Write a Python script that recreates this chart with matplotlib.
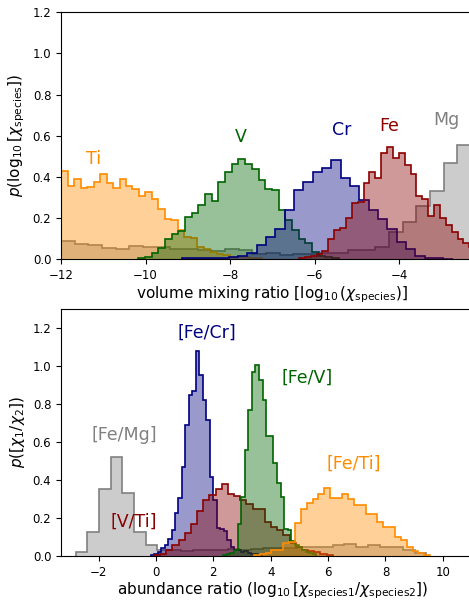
import numpy as np
import matplotlib
matplotlib.use('Agg')
import matplotlib.pyplot as plt


######################
# Retrieved posteriors: first bin edge, bin width and density per bin
# Volume mixing ratios, log10(chi)
ti_start, ti_width = -12.0, 0.1538
ti_vals = [0.43, 0.355, 0.39, 0.344, 0.35, 0.375, 0.413, 0.368, 0.344, 0.39,
           0.357, 0.342, 0.306, 0.325, 0.29, 0.243, 0.195, 0.19, 0.141, 0.105,
           0.10, 0.06, 0.05, 0.035, 0.025, 0.02, 0.012, 0.01, 0.008, 0.005,
           0.003]
v_start, v_width = -10.17, 0.158
v_vals = [0.005, 0.008, 0.028, 0.052, 0.096, 0.12, 0.138, 0.203, 0.225, 0.263,
          0.315, 0.282, 0.376, 0.425, 0.462, 0.486, 0.462, 0.438, 0.384, 0.34,
          0.335, 0.238, 0.19, 0.141, 0.097, 0.079, 0.036, 0.015, 0.008, 0.005]
cr_start, cr_width = -9.14, 0.221
cr_vals = [0.003, 0.003, 0.004, 0.004, 0.006, 0.011, 0.015, 0.03, 0.068, 0.108,
           0.146, 0.238, 0.335, 0.373, 0.425, 0.444, 0.48, 0.395, 0.355, 0.287,
           0.238, 0.195, 0.144, 0.081, 0.047, 0.015, 0.005, 0.005, 0.002]
fe_start, fe_width = -6.368, 0.139
fe_vals = [0.005, 0.01, 0.013, 0.025, 0.039, 0.096, 0.141, 0.149, 0.201, 0.274,
           0.279, 0.371, 0.421, 0.392, 0.517, 0.546, 0.49, 0.514, 0.457, 0.412,
           0.306, 0.29, 0.209, 0.263, 0.198, 0.165, 0.133, 0.097, 0.076, 0.06,
           0.045]
mg_start, mg_width = -12.0, 0.3234
mg_vals = [0.088, 0.073, 0.068, 0.052, 0.05, 0.062, 0.06, 0.06, 0.049, 0.05,
           0.045, 0.04, 0.048, 0.045, 0.025, 0.03, 0.02, 0.025, 0.022, 0.028,
           0.028, 0.044, 0.044, 0.06, 0.13, 0.181, 0.258, 0.332, 0.465, 0.554,
           0.55]

# Abundance ratios, log10(chi1/chi2)
femg_start, femg_width = -2.8, 0.4075
femg_vals = [0.023, 0.125, 0.353, 0.523, 0.33, 0.125, 0.058, 0.03, 0.03, 0.028,
             0.03, 0.032, 0.03, 0.035, 0.032, 0.038, 0.04, 0.044, 0.04, 0.045,
             0.048, 0.046, 0.058, 0.063, 0.046, 0.056, 0.05, 0.046, 0.032,
             0.014]
fecr_start, fecr_width = -0.183, 0.121
fecr_vals = [0.005, 0.01, 0.02, 0.04, 0.06, 0.088, 0.137, 0.225, 0.307, 0.47,
             0.69, 0.848, 0.871, 1.077, 0.954, 0.822, 0.717, 0.418, 0.295,
             0.146, 0.14, 0.13, 0.084, 0.05, 0.032, 0.03, 0.02, 0.025, 0.015,
             0.01, 0.01, 0.005]
vti_start, vti_width = -0.07, 0.215
vti_vals = [0.005, 0.01, 0.03, 0.058, 0.084, 0.12, 0.168, 0.238, 0.295, 0.32,
            0.352, 0.378, 0.327, 0.316, 0.295, 0.272, 0.246, 0.246, 0.181,
            0.154, 0.137, 0.11, 0.067, 0.05, 0.03, 0.025, 0.02, 0.01, 0.005]
fev_start, fev_width = 2.345, 0.125
fev_vals = [0.005, 0.01, 0.015, 0.03, 0.168, 0.31, 0.56, 0.77, 0.971, 1.007,
            0.928, 0.822, 0.629, 0.629, 0.49, 0.383, 0.313, 0.14, 0.137, 0.08,
            0.06, 0.05, 0.03, 0.02, 0.015, 0.01]
feti_start, feti_width = 3.41, 0.205
feti_vals = [0.005, 0.01, 0.015, 0.03, 0.03, 0.07, 0.075, 0.172, 0.247, 0.277,
             0.3, 0.327, 0.356, 0.304, 0.304, 0.327, 0.3, 0.269, 0.269, 0.221,
             0.221, 0.181, 0.151, 0.151, 0.098, 0.084, 0.049, 0.028, 0.014,
             0.006]

# Label text and positions (data coords)
top_labels = [('Ti', -11.23, 0.485, 'darkorange'),
              ('V', -7.75, 0.595, 'darkgreen'),
              ('Cr', -5.36, 0.627, 'navy'),
              ('Fe', -4.24, 0.647, 'darkred'),
              ('Mg', -2.87, 0.676, 'gray')]
bottom_labels = [('[Fe/Cr]', 1.77, 1.174, 'navy'),
                 ('[Fe/V]', 5.26, 0.936, 'darkgreen'),
                 ('[Fe/Ti]', 6.91, 0.488, 'darkorange'),
                 ('[Fe/Mg]', -1.11, 0.638, 'gray'),
                 ('[V/Ti]', -0.76, 0.181, 'darkred')]


def plot_posterior(ax, start, width, vals, color):
    # Filled bars plus a step outline on the same bins
    vals = np.asarray(vals)
    edges = start + width * np.arange(len(vals) + 1)
    ax.bar(edges[:-1], vals, width=width, align='edge', color=color,
           alpha=0.4, linewidth=0)
    ax.stairs(vals, edges, color=color, linewidth=1.2)


plt.rcParams['font.size'] = 8.5
fig = plt.figure(figsize=(4.69, 6.02), dpi=100)
ax_top = fig.add_axes([0.1301, 0.5698, 0.9009, 0.4098])
ax_bot = fig.add_axes([0.1301, 0.0764, 0.9009, 0.4103])

# Volume mixing ratios
plot_posterior(ax_top, mg_start, mg_width, mg_vals, 'gray')
plot_posterior(ax_top, ti_start, ti_width, ti_vals, 'darkorange')
plot_posterior(ax_top, v_start, v_width, v_vals, 'darkgreen')
plot_posterior(ax_top, cr_start, cr_width, cr_vals, 'navy')
plot_posterior(ax_top, fe_start, fe_width, fe_vals, 'darkred')
for text, x, y, c in top_labels:
    ax_top.text(x, y, text, color=c, fontsize=12.5, ha='center', va='center')
ax_top.set_xlim(-12, -2)
ax_top.set_ylim(0, 1.2)
ax_top.set_xticks([-12, -10, -8, -6, -4])
ax_top.set_yticks(np.arange(0, 1.21, 0.2))
ax_top.set_xlabel(r'volume mixing ratio [$\log_{10}(\chi_{\rm species})$]',
                  fontsize=11, labelpad=2)
ax_top.set_ylabel(r'$p(\log_{10}[\chi_{\rm species}])$', fontsize=11)

# Abundance ratios
plot_posterior(ax_bot, femg_start, femg_width, femg_vals, 'gray')
plot_posterior(ax_bot, fecr_start, fecr_width, fecr_vals, 'navy')
plot_posterior(ax_bot, vti_start, vti_width, vti_vals, 'darkred')
plot_posterior(ax_bot, fev_start, fev_width, fev_vals, 'darkgreen')
plot_posterior(ax_bot, feti_start, feti_width, feti_vals, 'darkorange')
for text, x, y, c in bottom_labels:
    ax_bot.text(x, y, text, color=c, fontsize=12.5, ha='center', va='center')
ax_bot.set_xlim(-3.31, 11.42)
ax_bot.set_ylim(0, 1.3)
ax_bot.set_xticks([-2, 0, 2, 4, 6, 8, 10])
ax_bot.set_yticks(np.arange(0, 1.21, 0.2))
ax_bot.set_xlabel(r'abundance ratio ($\log_{10}[\chi_{\rm species1}/'
                  r'\chi_{\rm species2}]$)', fontsize=11, labelpad=1)
ax_bot.set_ylabel(r'$p([\chi_1/\chi_2])$', fontsize=11)

fig.savefig('out.png', dpi=100)
